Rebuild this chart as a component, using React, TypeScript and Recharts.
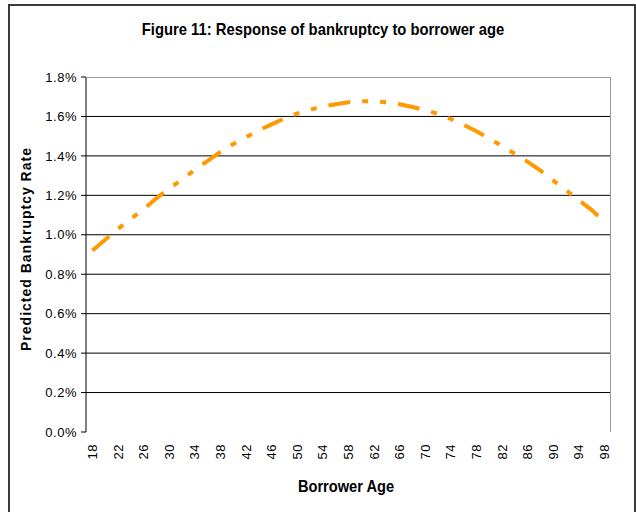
import React from "react";
import { LineChart, Line, XAxis, YAxis, CartesianGrid } from "recharts";

// borrower age, every 2 years
const ages = [
  18, 20, 22, 24, 26, 28, 30, 32, 34, 36, 38, 40, 42, 44, 46, 48, 50, 52, 54, 56,
  58, 60, 62, 64, 66, 68, 70, 72, 74, 76, 78, 80, 82, 84, 86, 88, 90, 92, 94, 96, 98,
];

// predicted bankruptcy rate, in percent
const rates = [
  0.92, 0.975, 1.03, 1.08, 1.13, 1.185, 1.235, 1.28, 1.33, 1.375, 1.42, 1.46, 1.495,
  1.53, 1.56, 1.59, 1.615, 1.635, 1.65, 1.662, 1.672, 1.677, 1.677, 1.672, 1.662,
  1.648, 1.632, 1.613, 1.587, 1.557, 1.525, 1.488, 1.45, 1.41, 1.37, 1.325, 1.275,
  1.225, 1.175, 1.125, 1.065,
];

const yTicks = [0, 0.2, 0.4, 0.6, 0.8, 1.0, 1.2, 1.4, 1.6, 1.8];
const gridValues = [0.2, 0.4, 0.6, 0.8, 1.0, 1.2, 1.4, 1.6];
const ageLabels = [18, 22, 26, 30, 34, 38, 42, 46, 50, 54, 58, 62, 66, 70, 74, 78, 82, 86, 90, 94, 98];
const ageBounds = [
  17, 19, 21, 23, 25, 27, 29, 31, 33, 35, 37, 39, 41, 43, 45, 47, 49, 51, 53, 55, 57,
  59, 61, 63, 65, 67, 69, 71, 73, 75, 77, 79, 81, 83, 85, 87, 89, 91, 93, 95, 97, 99,
];

const data = ages.map((age, i) => ({ age, rate: rates[i] }));

const tickFont = '"Liberation Sans", Arial, sans-serif';

const NoTick = () => <g />;

const AgeTick = (props: any) => {
  const { x, y, payload } = props;
  return (
    <text
      x={x}
      y={y}
      transform={`rotate(-90, ${x}, ${y})`}
      textAnchor="end"
      dominantBaseline="central"
      fontFamily={tickFont}
      fontSize={13}
      letterSpacing={0.5}
      fill="#000"
    >
      {payload.value}
    </text>
  );
};

export default function App() {
  return (
    <div style={{ position: "absolute", left: 0, top: 0, width: 636, height: 512, background: "#fff" }}>
      <div
        style={{
          position: "absolute",
          left: 8,
          top: 4,
          width: 628,
          height: 508,
          boxSizing: "border-box",
          border: "2px solid #3a3a3a",
          borderBottom: "none",
        }}
      />
      <div
        style={{
          position: "absolute",
          left: 323 - 250,
          top: 21,
          width: 500,
          textAlign: "center",
          fontFamily: tickFont,
          fontWeight: "bold",
          fontSize: 17,
          lineHeight: "17px",
          transform: "scaleX(0.87)",
          color: "#000",
        }}
      >
        Figure 11: Response of bankruptcy to borrower age
      </div>
      <div
        style={{
          position: "absolute",
          left: 25.5 - 150,
          top: 249 - 10,
          width: 300,
          height: 20,
          lineHeight: "20px",
          textAlign: "center",
          transform: "rotate(-90deg)",
          fontFamily: tickFont,
          fontWeight: "bold",
          fontSize: 14,
          letterSpacing: 1,
          color: "#000",
        }}
      >
        Predicted Bankruptcy Rate
      </div>
      <div
        style={{
          position: "absolute",
          left: 346 - 100,
          top: 478,
          width: 200,
          textAlign: "center",
          fontFamily: tickFont,
          fontWeight: "bold",
          fontSize: 17,
          lineHeight: "17px",
          transform: "scaleX(0.86)",
          color: "#000",
        }}
      >
        Borrower Age
      </div>
      <div style={{ position: "absolute", left: 0, top: 0 }}>
        <LineChart
          width={636}
          height={512}
          data={data}
          margin={{ top: 77, right: 25, bottom: 40, left: 26 }}
        >
          <CartesianGrid vertical={false} stroke="#000" horizontalValues={gridValues} />
          <XAxis
            xAxisId="marks"
            dataKey="age"
            type="number"
            domain={[17, 99]}
            ticks={ageBounds}
            interval={0}
            height={0}
            tick={NoTick}
            tickSize={5}
            tickLine={{ stroke: "#000" }}
            axisLine={{ stroke: "#000" }}
          />
          <XAxis
            xAxisId="labels"
            dataKey="age"
            type="number"
            domain={[17, 99]}
            ticks={ageLabels}
            interval={0}
            height={40}
            tick={AgeTick}
            tickSize={0}
            tickMargin={12}
            tickLine={false}
            axisLine={false}
          />
          <YAxis
            type="number"
            domain={[0, 1.8]}
            ticks={yTicks}
            interval={0}
            width={60}
            tickSize={5}
            tickMargin={4}
            tickLine={{ stroke: "#000" }}
            axisLine={{ stroke: "#000" }}
            tickFormatter={(v: number) => `${v.toFixed(1)}%`}
            tick={{ fill: "#000", fontFamily: tickFont, fontSize: 13, letterSpacing: 0.5 }}
          />
          <Line
            xAxisId="marks"
            type="linear"
            dataKey="rate"
            stroke="#FF9900"
            strokeWidth={4}
            strokeDasharray="22 12 6 12 6 12"
            strokeLinecap="butt"
            dot={false}
            activeDot={false}
            isAnimationActive={false}
          />
        </LineChart>
      </div>
      <div
        style={{
          position: "absolute",
          left: 86,
          top: 77,
          width: 525,
          height: 355,
          boxSizing: "border-box",
          borderTop: "1.5px solid #9a9a9a",
          borderRight: "1.5px solid #9a9a9a",
          pointerEvents: "none",
        }}
      />
    </div>
  );
}
